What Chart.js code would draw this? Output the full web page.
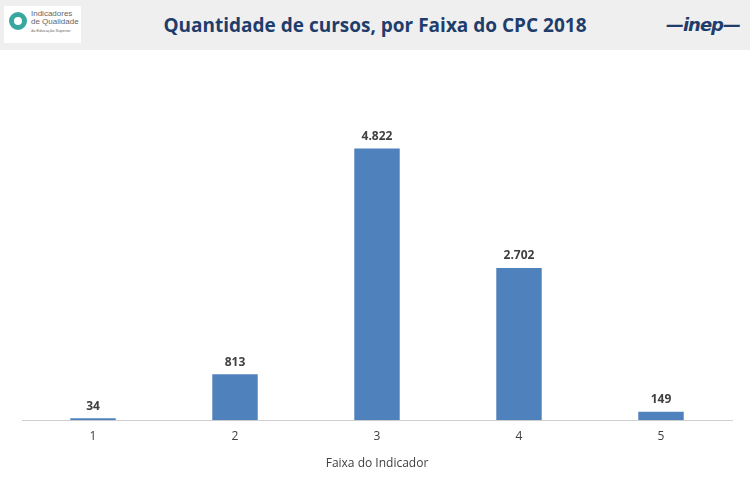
<!DOCTYPE html>
<html><head><meta charset="utf-8">
<script src="https://cdn.jsdelivr.net/npm/chart.js@4"></script>
<style>
body{margin:0;width:750px;height:500px;background:#fff;font-family:"Open Sans",sans-serif;position:relative;overflow:hidden}
#hdr{position:absolute;left:0;top:0;width:750px;height:50px;background:#efefef}
#title{position:absolute;left:0;width:750px;top:12px;text-align:center;font-size:19px;font-weight:bold;color:#1f3d6b;font-family:"Open Sans",sans-serif}
#logo{position:absolute;left:4px;top:6px;width:77px;height:37px;background:#fff}
#logo .q{position:absolute;left:5px;top:6px;border:5px solid #3aa6a0;border-radius:50%;box-sizing:border-box;width:18px;height:18px}
#logo .t{position:absolute;left:27px;top:4px;font-size:8px;line-height:8px;color:#666;font-family:"Liberation Sans",sans-serif}
#inep{position:absolute;right:10px;top:14px;font-size:18px;font-weight:900;font-style:italic;color:#1f3d6b;font-family:"DejaVu Sans",sans-serif;letter-spacing:-1px}
canvas{position:absolute;left:0;top:0}
</style></head><body>
<div id="hdr"><div id="logo"><div class="q"></div><div class="t">Indicadores<br>de Qualidade<br><span style="font-size:4px">da Educação Superior</span></div></div>
<div id="title">Quantidade de cursos, por Faixa do CPC 2018</div>
<div id="inep">—inep—</div></div>
<canvas id="c" width="750" height="500"></canvas>
<script>
const categories=["1","2","3","4","5"];
const values=[34,813,4822,2702,149];
const axisTitle="Faixa do Indicador";
const fmt=v=>v.toLocaleString('pt-BR');
const labelsPlugin={id:'lbl',afterDatasetsDraw(ch){const c=ch.ctx;const m=ch.getDatasetMeta(0);c.save();c.font='bold 12px "Open Sans"';c.fillStyle='#404040';c.textAlign='center';c.textBaseline='bottom';m.data.forEach((b,i)=>c.fillText(fmt(values[i]),b.x,b.y-6));c.restore();}};
new Chart(document.getElementById('c'),{type:'bar',data:{labels:categories,datasets:[{data:values,backgroundColor:'#4f81bd',categoryPercentage:1,barPercentage:0.32}]},
options:{responsive:false,animation:false,layout:{padding:{left:22,right:18,top:82,bottom:25}},
plugins:{legend:{display:false},tooltip:{enabled:false}},
scales:{y:{display:false,min:0,max:6000},x:{grid:{display:false,drawTicks:false},border:{color:'#d0d0d0'},ticks:{color:'#404040',font:{size:12,family:'"Open Sans"'},padding:9},title:{display:true,text:axisTitle,color:'#404040',font:{size:12,family:'"Open Sans"'},padding:{top:4}}}}},
plugins:[labelsPlugin]});
</script></body></html>
